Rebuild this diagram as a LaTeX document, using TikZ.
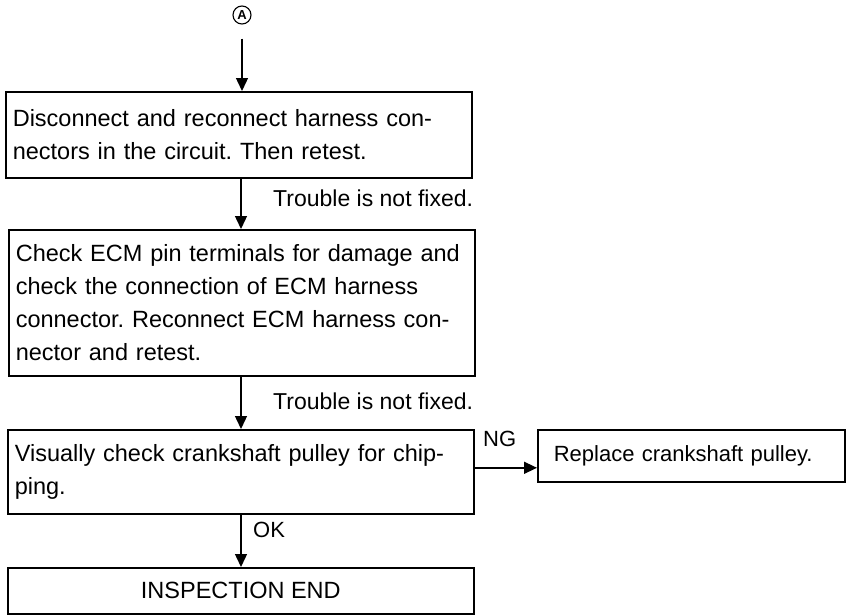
\documentclass[tikz,border=0pt]{standalone}
\usepackage{fontspec}
\setmainfont{Liberation Sans}
\usetikzlibrary{arrows.meta,calc}
\frenchspacing
\begin{document}
\begin{tikzpicture}[x=1pt,y=-1pt,
  box/.style={draw,line width=1.6pt,rectangle,inner xsep=7pt,inner ysep=0pt,
    align=left,font=\fontsize{23.5}{33}\selectfont\frenchspacing,anchor=north west,minimum width=466pt},
  flow/.style={line width=1.4pt,-{Triangle[length=13pt,width=12pt]}},
  lbl/.style={font=\fontsize{23}{26}\selectfont,inner sep=0pt,anchor=base west}]
\useasboundingbox (0,0) rectangle (847,614);

% connector mark at the top
\node[circle,draw,line width=1.1pt,inner sep=0pt,minimum size=18pt,
      font=\fontsize{13}{13}\selectfont\bfseries] (A) at (242,15) {A};

% steps
\node[box,minimum height=86pt,text width=452pt] (b1) at (5,91)
  {Disconnect and reconnect harness con-\\nectors in the circuit. Then retest.};
\node[box,minimum height=146pt,text width=452pt] (b2) at (8,229)
  {Check ECM pin terminals for damage and\\check the connection of ECM harness\\connector. Reconnect ECM harness con-\\nector and retest.};
\node[box,minimum height=84pt,text width=452pt] (b3) at (7,429)
  {Visually check crankshaft pulley for chip-\\ping.};
\node[box,minimum height=46pt,align=center] (b4) at (7,567) {INSPECTION END};
\node[box,minimum width=307pt,minimum height=52pt,inner xsep=16pt,text width=275pt,
      font=\fontsize{22}{26}\selectfont] (b5) at (537,429)
  {Replace crankshaft pulley.};

% connectors
\coordinate (ax) at (241,0);
\draw[flow,shorten <=14pt] (A.south) -- (A.south |- b1.north);
\draw[flow] (b1.south -| ax) -- (b2.north -| ax);
\draw[flow] (b2.south -| ax) -- (b3.north -| ax);
\draw[flow] (b3.south -| ax) -- (b4.north -| ax);
\coordinate (ngend) at ($(b5.west)+(0,12)$);
\draw[flow] (ngend -| b3.east) -- (ngend);

% branch labels
\node[lbl] (t1) at (273,206) {Trouble is not fixed.};
\node[lbl] (t2) at (273,409) {Trouble is not fixed.};
\node[lbl,font=\fontsize{22}{24}\selectfont] (ng) at (483,446) {NG};
\node[lbl,font=\fontsize{22}{24}\selectfont] (ok) at (253,537) {OK};
\end{tikzpicture}
\end{document}
